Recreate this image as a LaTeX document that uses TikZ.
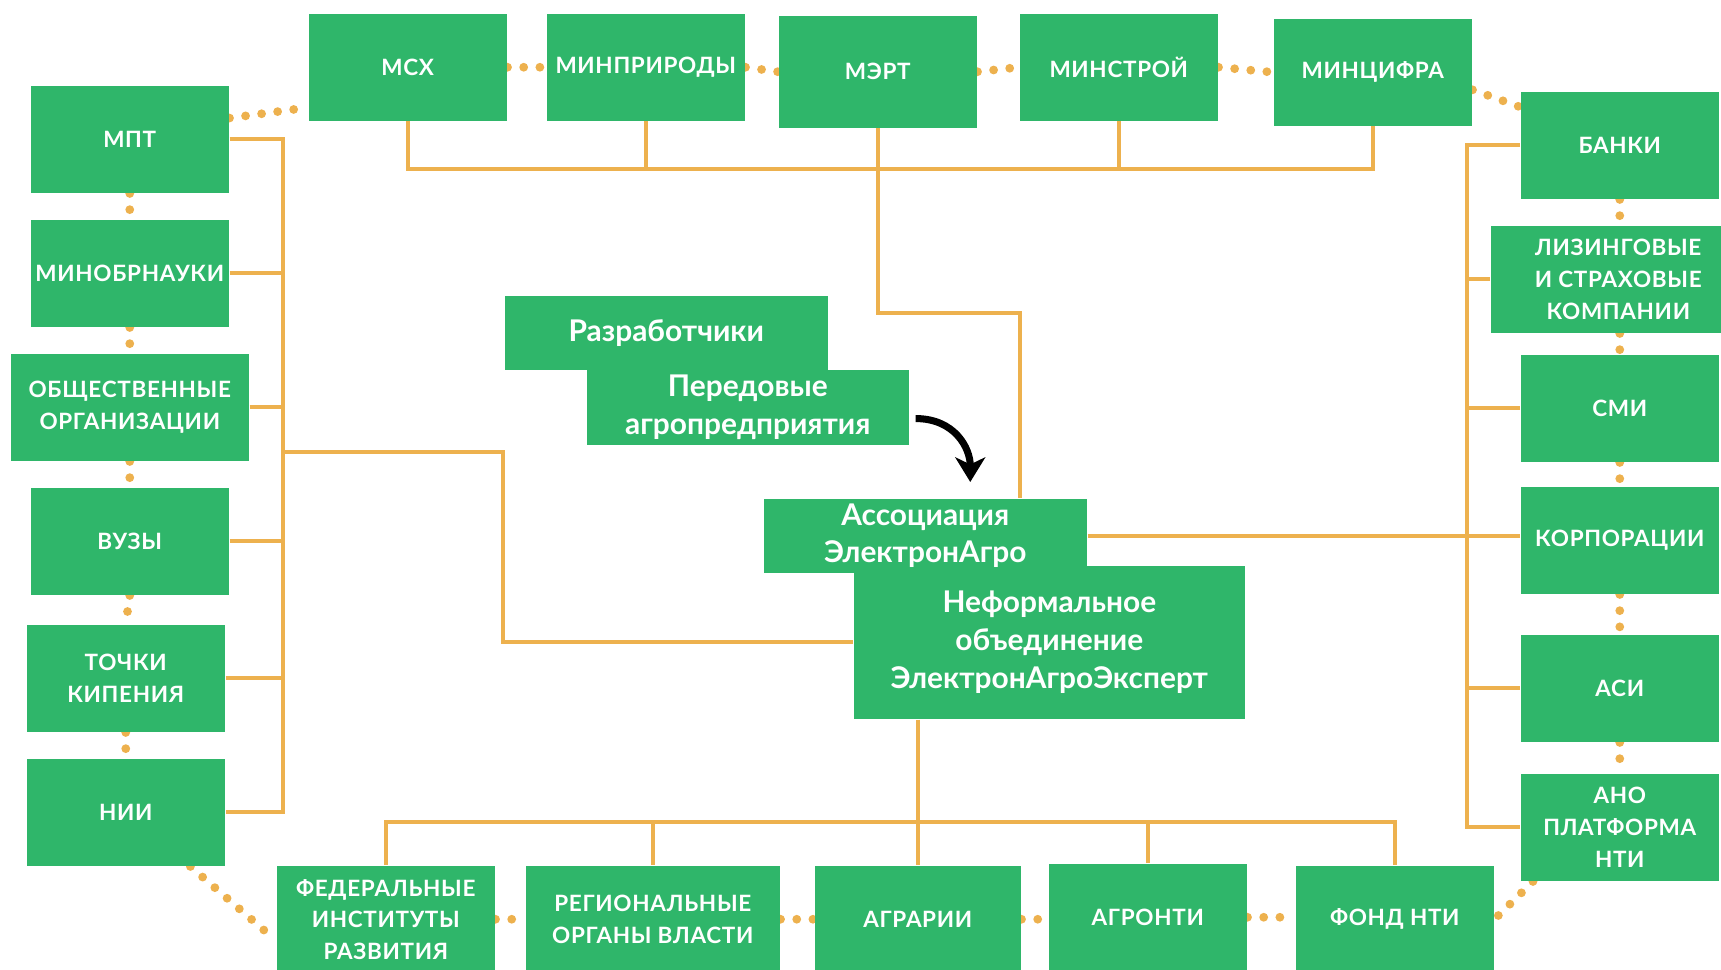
\documentclass[tikz,border=0pt]{standalone}
\usepackage{fontspec}
\setmainfont{Lato}
\newfontfamily\espace[LetterSpace=3]{Lato}
\usetikzlibrary{arrows.meta,backgrounds}

\definecolor{vertbox}{RGB}{47,182,106}
\definecolor{orlien}{RGB}{237,177,78}

\tikzset{
  boite/.style={fill=vertbox, text=white, anchor=north west, inner sep=0pt,
    align=center, minimum width=1.98cm, minimum height=1.07cm},
  majus/.style={boite, font=\espace\bfseries\fontsize{6.4}{9}\selectfont},
  minus/.style={boite, font=\bfseries\fontsize{8.5}{10.7}\selectfont},
  lien/.style={orlien, line width=1.1pt},
  pointille/.style={orlien, line width=2.5pt, line cap=round,
    dash pattern=on 0pt off 4.6pt},
  fleche/.style={black, line width=2pt,
    -{Stealth[length=7pt,width=8.5pt,inset=2pt]}},
}

\begin{document}
\begin{tikzpicture}[x=0.01cm, y=-0.01cm]
    \useasboundingbox (0,0) rectangle (1721,969);
    %\draw[help lines, step=100] (0,0) grid (1721,969);
    % ministeres en haut
    \node[majus] (msx) at (308,13) {МСХ};
    \node[majus] (minpr) at (546,13) {МИНПРИРОДЫ};
    \node[majus, minimum height=1.12cm] (mert) at (778,15) {МЭРТ};
    \node[majus] (minstr) at (1019,13) {МИНСТРОЙ};
    \node[majus] (mincifra) at (1273,18) {МИНЦИФРА};
    % colonne gauche
    \node[majus] (mpt) at (30,85) {МПТ};
    \node[majus] (minobr) at (30,219) {МИНОБРНАУКИ};
    \node[majus, minimum width=2.38cm] (obsch) at (10,353) {ОБЩЕСТВЕННЫЕ\\ОРГАНИЗАЦИИ};
    \node[majus] (vuzy) at (30,487) {ВУЗЫ};
    \node[majus] (tochki) at (26,624) {ТОЧКИ\\КИПЕНИЯ};
    \node[majus] (nii) at (26,758) {НИИ};
    % colonne droite
    \node[majus] (banki) at (1520,91) {БАНКИ};
    \node[majus, minimum width=2.55cm] (lizing) at (1490,225) {ЛИЗИНГОВЫЕ\\И СТРАХОВЫЕ\\КОМПАНИИ};
    \node[majus] (smi) at (1520,354) {СМИ};
    \node[majus] (korp) at (1520,486) {КОРПОРАЦИИ};
    \node[majus] (asi) at (1520,634) {АСИ};
    \node[majus] (ano) at (1520,773) {АНО\\ПЛАТФОРМА\\НТИ};
    % ligne du bas
    \node[majus, minimum width=2.18cm] (fed) at (276,865) {ФЕДЕРАЛЬНЫЕ\\ИНСТИТУТЫ\\РАЗВИТИЯ};
    \node[majus, minimum width=2.54cm] (reg) at (525,865) {РЕГИОНАЛЬНЫЕ\\ОРГАНЫ ВЛАСТИ};
    \node[majus, minimum width=2.06cm] (agrarii) at (814,865) {АГРАРИИ};
    \node[majus] (agronti) at (1048,863) {АГРОНТИ};
    \node[majus] (fond) at (1295,865) {ФОНД НТИ};
    % centre
    \node[minus, minimum width=3.23cm, minimum height=0.74cm] (razrab) at (504,295) {Разработчики};
    \node[minus, minimum width=3.22cm, minimum height=0.75cm] (pered) at (586,369) {Передовые\\агропредприятия};
    \node[minus, minimum width=3.91cm, minimum height=1.53cm] (neform) at (853,565) {Неформальное\\объединение\\ЭлектронАгроЭксперт};
    \node[minus, minimum width=3.23cm, minimum height=0.74cm] (assoc) at (763,498) {Ассоциация\\ЭлектронАгро};

    \coordinate (hbus) at (0,169);
    \coordinate (gbus) at (283,0);
    \coordinate (dbus) at (1467,0);
    \coordinate (bbus) at (0,822);
    \coordinate (coude) at (1020,313);
    \coordinate (coudeg) at (503,452);

    \begin{scope}[on background layer]
    % liens en haut
    \draw[lien] (msx.south) |- (hbus -| mincifra.south) -- (mincifra.south);
    \foreach \n in {minpr,minstr}
        \draw[lien] (\n.south) -- (\n.south |- hbus);
    \draw[lien] (mert.south) |- (coude) -- (coude |- assoc.north);
    % liens a gauche
    \draw[lien] (mpt.east) -| (gbus |- nii.east) -- (nii.east);
    \foreach \n in {minobr,obsch,vuzy,tochki}
        \draw[lien] (\n.east) -- (\n.east -| gbus);
    \draw[lien] (gbus |- coudeg) -- (coudeg) |- (neform.west);
    % liens a droite
    \draw[lien] (banki.west) -| (dbus |- ano.west) -- (ano.west);
    \foreach \n in {lizing,smi,asi}
        \draw[lien] (\n.west) -- (\n.west -| dbus);
    \draw[lien] (assoc.east) -- (korp.west |- assoc.east);
    % liens en bas
    \draw[lien] (fed.north) |- (bbus -| fond.north) -- (fond.north);
    \draw[lien] (agrarii.north |- neform.south) -- (agrarii.north);
    \foreach \n in {reg,agronti}
        \draw[lien] (\n.north) -- (\n.north |- bbus);
    % pointilles
    \draw[pointille] (mpt.12) -- (msx.202);
    \draw[pointille] (msx.east) -- (minpr.west);
    \draw[pointille] (minpr.east) -- (mert.west);
    \draw[pointille] (mert.east) -- (minstr.west);
    \draw[pointille] (minstr.east) -- (mincifra.west);
    \draw[pointille] (mincifra.-10) -- (banki.159);
    \draw[pointille] (banki.south) -- (banki.south |- lizing.north);
    \draw[pointille] (banki.south |- lizing.south) -- (smi.north);
    \draw[pointille] (smi.south) -- (korp.north);
    \draw[pointille] (korp.south) -- (asi.north);
    \draw[pointille] (asi.south) -- (ano.north);
    \draw[pointille] (ano.212) -- (fond.east);
    \draw[pointille] (agronti.east) -- (fond.west |- agronti.east);
    \draw[pointille] (agrarii.east) -- (agronti.west |- agrarii.east);
    \draw[pointille] (reg.east) -- (agrarii.west);
    \draw[pointille] (fed.east) -- (reg.west);
    \draw[pointille] (nii.-40) -- (fed.191);
    \draw[pointille] (mpt.south) -- (minobr.north);
    \draw[pointille] (minobr.south) -- (obsch.north);
    \draw[pointille] (obsch.south) -- (vuzy.north);
    \draw[pointille] (vuzy.south) -- (tochki.north);
    \draw[pointille] (tochki.south) -- (nii.north);
    \end{scope}

    \draw[fleche, shorten <=0.06cm, shorten >=0.16cm] (pered.-4) .. controls +(45,0) and +(0,-50) .. (assoc.40);
\end{tikzpicture}
\end{document}
